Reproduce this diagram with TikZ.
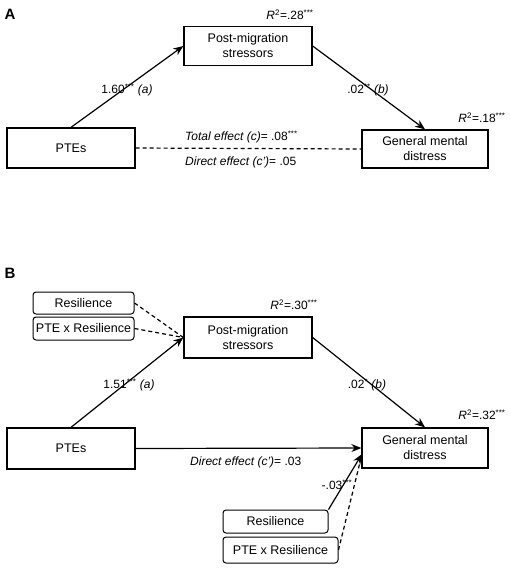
\documentclass[tikz,border=0pt]{standalone}
\usepackage{fontspec}
\setmainfont{Liberation Sans}
\usetikzlibrary{arrows.meta}
\newcommand{\stx}[1]{\textsuperscript{#1}}
\begin{document}
\begin{tikzpicture}[x=1pt,y=-1pt,
  box/.style={draw,line width=1.3pt,align=center,inner sep=0pt,font=\fontsize{12.5}{15}\selectfont},
  rbox/.style={draw,line width=1pt,rounded corners=3pt,align=center,inner sep=0pt,font=\fontsize{12.5}{15}\selectfont},
  lab/.style={font=\fontsize{12}{14}\selectfont,inner sep=0pt},
  arr/.style={line width=1.2pt,-{Stealth[length=10pt,width=8pt]}},
  dsh/.style={line width=1.2pt,dash pattern=on 4pt off 3pt},
  panel/.style={font=\bfseries\fontsize{15}{15}\selectfont,inner sep=0pt}]
\useasboundingbox (0,0) rectangle (510,568);
% Panel A
\node[panel] (A) at (10,14) {A};
\node[box,minimum width=128pt,minimum height=39pt] (pms) at (248,46) {Post-migration\\stressors};
\node[box,minimum width=128pt,minimum height=40pt] (ptes) at (71,148) {PTEs};
\node[box,minimum width=126pt,minimum height=38pt] (gmd) at (425,149) {General mental\\distress};
\draw[arr] (ptes.north) -- (pms.west);
\draw[arr] (pms.east) -- (gmd.north);
\draw[dsh] (ptes.east) -- (gmd.west);
\node[lab] (la) at (127,90) {1.60\stx{***} \textit{(a)}};
\node[lab] (lb) at (368,90) {.02\stx{**} \textit{(b)}};
\node[lab] (r1) at (290,15) {\textit{R}\stx{2}=.28\stx{***}};
\node[lab] (r2) at (482,118) {\textit{R}\stx{2}=.18\stx{***}};
\node[lab,anchor=west] (tot) at (185,137) {\textit{Total effect (c)}= .08\stx{***}};
\node[lab,anchor=west] (dir) at (185,162) {\textit{Direct effect (c')}= .05};
% Panel B
\node[panel] (B) at (10,273) {B};
\node[rbox,minimum width=101pt,minimum height=22pt] (res1) at (83.5,303) {Resilience};
\node[rbox,minimum width=101pt,minimum height=23pt] (px1) at (83.5,328.5) {PTE x Resilience};
\node[box,minimum width=128pt,minimum height=41pt] (pmsB) at (248,337.5) {Post-migration\\stressors};
\node[box,minimum width=128pt,minimum height=41pt] (ptesB) at (71,448.5) {PTEs};
\node[box,minimum width=126pt,minimum height=40pt] (gmdB) at (425,448) {General mental\\distress};
\node[rbox,minimum width=105pt,minimum height=23pt] (res2) at (275.5,521.5) {Resilience};
\node[rbox,minimum width=115pt,minimum height=26pt] (px2) at (280.5,550) {PTE x Resilience};
\coordinate (gin) at (362,454);
\draw[dsh] (res1.east) -- (pmsB.west);
\draw[dsh] (px1.east) -- (pmsB.west);
\draw[arr] (ptesB.north) -- (pmsB.west);
\draw[arr] (pmsB.east) -- (gmdB.north);
\draw[arr] (ptesB.east) -- (gmdB.west);
\draw[dsh] (px2.east) -- (gin);
\draw[arr] (res2.north east) -- (gin);
\node[lab] (lab2) at (129,385) {1.51\stx{***} \textit{(a)}};
\node[lab] (lbb2) at (367,385) {.02\stx{*} \textit{(b)}};
\node[lab] (r3) at (294,305) {\textit{R}\stx{2}=.30\stx{***}};
\node[lab] (r4) at (482,415) {\textit{R}\stx{2}=.32\stx{***}};
\node[lab,anchor=west] (dir2) at (190,462) {\textit{Direct effect (c')}= .03};
\node[lab] (m03) at (337,485) {-.03\stx{***}};
\end{tikzpicture}
\end{document}
